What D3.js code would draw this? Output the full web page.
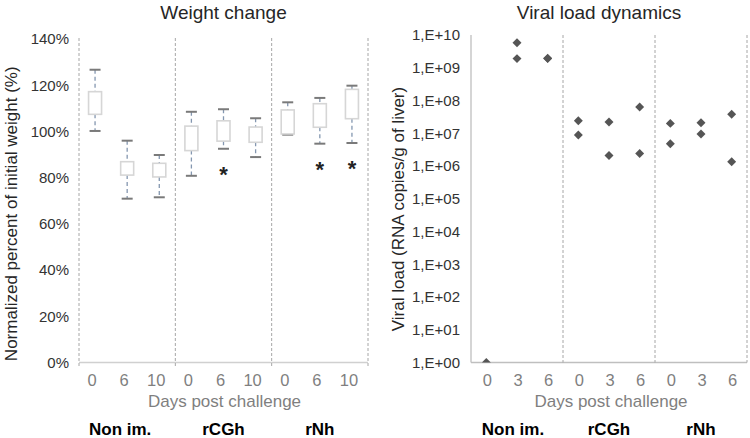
<!DOCTYPE html>
<html><head><meta charset="utf-8">
<script src="https://cdn.jsdelivr.net/npm/d3@7"></script>
<style>body{margin:0;background:#fff;} svg{display:block;font-family:"Liberation Sans",Arial,sans-serif;}</style>
</head><body><svg id="c" width="750" height="438"></svg>
<script>
// ---- data ----
const groups = ["Non im.", "rCGh", "rNh"];
const weightDays = ["0", "6", "10"];
const weightMin = [100.2, 70.9, 71.5, 80.8, 92.5, 88.9, 98.6, 94.7, 95.0];
const weightQ1  = [107.4, 81.1, 80.3, 91.7, 95.8, 95.3, 98.9, 101.8, 105.5];
const weightQ3  = [117.2, 86.9, 86.2, 102.3, 104.6, 101.9, 109.3, 112.0, 118.2];
const weightMax = [126.7, 96.0, 89.8, 108.5, 109.6, 105.7, 112.6, 114.5, 119.8];
const weightSig = ["", "", "", "", "*", "", "", "*", "*"];
const weightTicks = [0, 20, 40, 60, 80, 100, 120, 140];

const viralDays = ["0", "3", "6"];
// one entry per measured animal: [group index, day index, copies/g]
const viralGroup = [0, 0, 0, 0, 0, 1, 1, 1, 1, 1, 1, 2, 2, 2, 2, 2, 2];
const viralDay   = [0, 1, 1, 2, 2, 0, 0, 1, 1, 2, 2, 0, 0, 1, 1, 2, 2];
const viralLoad  = [1, 5.8e9, 1.9e9, 1.9e9, 1.95e9, 2.4e7, 8.9e6, 2.2e7, 2.1e6, 6.3e7, 2.4e6,
                    2.0e7, 4.8e6, 2.1e7, 9.5e6, 3.8e7, 1.35e6];
const viralTicks = [1, 1e1, 1e2, 1e3, 1e4, 1e5, 1e6, 1e7, 1e8, 1e9, 1e10];

const svg = d3.select("#c");
const gridCol = "#bfbfbf", divCol = "#a6a6a6";

function catLabels(groupsArr, daysArr) {
  const out = [];
  groupsArr.forEach((g, gi) => daysArr.forEach((d, di) => out.push(gi + "|" + di)));
  return out;
}

// ================= LEFT: Weight change =================
{
  const L = 79, R = 368, T = 39, B = 362.5;
  const cats = catLabels(groups, weightDays);
  const x = d3.scaleBand().domain(cats).range([L, R]);
  const xg = d3.scaleBand().domain(groups).range([L, R]);
  const y = d3.scaleLinear().domain([0, 140]).range([B, T]);
  const g = svg.append("g");

  g.append("text").attr("x", (L + R) / 2).attr("y", 19).attr("text-anchor", "middle")
    .attr("font-size", 19).attr("fill", "#262626").text("Weight change");

  // y axis labels
  const ya = d3.axisLeft(y).tickValues(weightTicks).tickSize(0).tickPadding(10).tickFormat(d => d + "%");
  const yg = g.append("g").attr("transform", `translate(${L},0)`).call(ya);
  yg.select(".domain").remove();
  yg.selectAll("text").attr("font-size", 15).attr("fill", "#333").attr("font-family", "Liberation Sans, Arial, sans-serif");

  // baseline
  g.append("line").attr("x1", L).attr("x2", R).attr("y1", y(0)).attr("y2", y(0))
    .attr("stroke", "#d0d0d0").attr("stroke-width", 1.5);
  // group dividers
  const divs = groups.map(d => xg(d)).concat([R]);
  g.selectAll(".div").data(divs).join("line")
    .attr("x1", d => d).attr("x2", d => d).attr("y1", T - 1).attr("y2", B + 4)
    .attr("stroke", divCol).attr("stroke-dasharray", "3,2").attr("stroke-width", 1);

  const data = cats.map((c, i) => ({c, min: weightMin[i], q1: weightQ1[i], q3: weightQ3[i], max: weightMax[i], sig: weightSig[i]}));
  const bw = 13, cw = 11;
  const cx = d => x(d.c) + x.bandwidth() / 2;
  // whiskers
  g.selectAll(".wu").data(data).join("line")
    .attr("x1", cx).attr("x2", cx).attr("y1", d => y(d.max)).attr("y2", d => y(d.q3))
    .attr("stroke", "#8497b0").attr("stroke-width", 1.3).attr("stroke-dasharray", "4,3");
  g.selectAll(".wl").data(data).join("line")
    .attr("x1", cx).attr("x2", cx).attr("y1", d => y(d.q1)).attr("y2", d => y(d.min))
    .attr("stroke", "#8497b0").attr("stroke-width", 1.3).attr("stroke-dasharray", "4,3");
  // caps
  ["max", "min"].forEach(k => {
    g.selectAll(".cap" + k).data(data).join("line")
      .attr("x1", d => cx(d) - cw / 2).attr("x2", d => cx(d) + cw / 2)
      .attr("y1", d => y(d[k])).attr("y2", d => y(d[k]))
      .attr("stroke", "#7a7a7a").attr("stroke-width", 2);
  });
  // boxes
  g.selectAll(".box").data(data).join("rect")
    .attr("x", d => cx(d) - bw / 2).attr("width", bw)
    .attr("y", d => y(d.q3)).attr("height", d => y(d.q1) - y(d.q3))
    .attr("fill", "#fff").attr("stroke", "#d6d6d6").attr("stroke-width", 1.6);
  // significance
  g.selectAll(".sig").data(data.filter(d => d.sig)).join("text")
    .attr("x", cx).attr("y", d => y(d.min) + 33).attr("text-anchor", "middle")
    .attr("font-size", 22).attr("font-weight", "bold").attr("fill", "#222").text(d => d.sig);

  // x tick labels
  g.selectAll(".xt").data(cats).join("text")
    .attr("x", d => x(d) + x.bandwidth() / 2 - 3).attr("y", 386).attr("text-anchor", "middle")
    .attr("font-size", 16.5).attr("fill", "#7f7f7f").text(d => weightDays[+d.split("|")[1]]);
  g.append("text").attr("x", (L + R) / 2 + 1).attr("y", 406.5).attr("text-anchor", "middle")
    .attr("font-size", 17).attr("fill", "#7f7f7f").text("Days post challenge");
  g.selectAll(".gl").data(groups).join("text")
    .attr("x", d => xg(d) + xg.bandwidth() / 2 - (d === "Non im." ? 7 : 0)).attr("y", 435).attr("text-anchor", "middle")
    .attr("font-size", 17).attr("font-weight", "bold").attr("fill", "#000").text(d => d);

  g.append("text").attr("transform", `translate(17,${(T + B) / 2 + 13}) rotate(-90)`)
    .attr("text-anchor", "middle").attr("font-size", 17).attr("fill", "#262626")
    .text("Normalized percent of initial weight (%)");
}

// ================= RIGHT: Viral load =================
{
  const L = 471, R = 747, T = 35, B = 362.5;
  const cats = catLabels(groups, viralDays);
  const x = d3.scaleBand().domain(cats).range([L, R]);
  const xg = d3.scaleBand().domain(groups).range([L, R]);
  const y = d3.scaleLog().domain([1, 1e10]).range([B, T]);
  const g = svg.append("g");

  g.append("text").attr("x", (L + R) / 2 - 10).attr("y", 19).attr("text-anchor", "middle")
    .attr("font-size", 19).attr("fill", "#262626").text("Viral load dynamics");

  const ya = d3.axisLeft(y).tickValues(viralTicks).tickSize(0).tickPadding(11)
    .tickFormat(d => "1,E+" + String(Math.round(Math.log10(d))).padStart(2, "0"));
  const yg = g.append("g").attr("transform", `translate(${L},0)`).call(ya);
  yg.select(".domain").remove();
  yg.selectAll("text").attr("font-size", 15).attr("fill", "#333").attr("font-family", "Liberation Sans, Arial, sans-serif");

  g.append("line").attr("x1", L).attr("x2", L).attr("y1", T).attr("y2", B)
    .attr("stroke", gridCol).attr("stroke-width", 1.3);
  g.append("line").attr("x1", L).attr("x2", R).attr("y1", B).attr("y2", B)
    .attr("stroke", gridCol).attr("stroke-width", 1.3);
  const divs = groups.slice(1).map(d => xg(d)).concat([R]);
  g.selectAll(".div").data(divs).join("line")
    .attr("x1", d => d).attr("x2", d => d).attr("y1", T).attr("y2", B)
    .attr("stroke", divCol).attr("stroke-dasharray", "3,2").attr("stroke-width", 1);

  svg.append("defs").append("clipPath").attr("id", "vclip")
    .append("rect").attr("x", L).attr("y", T - 10).attr("width", R - L).attr("height", B - T + 10);

  const pts = viralLoad.map((v, i) => ({c: viralGroup[i] + "|" + viralDay[i], v}));
  const sym = d3.symbol().type(d3.symbolSquare).size(40);
  g.append("g").attr("clip-path", "url(#vclip)").selectAll("path").data(pts).join("path")
    .attr("d", sym)
    .attr("transform", d => `translate(${x(d.c) + x.bandwidth() / 2},${y(d.v)}) rotate(45)`)
    .attr("fill", "#555");

  g.selectAll(".xt").data(cats).join("text")
    .attr("x", d => x(d) + x.bandwidth() / 2 + 1).attr("y", 386).attr("text-anchor", "middle")
    .attr("font-size", 16.5).attr("fill", "#7f7f7f").text(d => viralDays[+d.split("|")[1]]);
  g.append("text").attr("x", (L + R) / 2 + 2).attr("y", 406.5).attr("text-anchor", "middle")
    .attr("font-size", 17).attr("fill", "#7f7f7f").text("Days post challenge");
  g.selectAll(".gl").data(groups).join("text")
    .attr("x", d => xg(d) + xg.bandwidth() / 2 - (d === "Non im." ? 4 : 0)).attr("y", 435).attr("text-anchor", "middle")
    .attr("font-size", 17).attr("font-weight", "bold").attr("fill", "#000").text(d => d);

  g.append("text").attr("transform", `translate(404,209) rotate(-90)`)
    .attr("text-anchor", "middle").attr("font-size", 17).attr("fill", "#262626")
    .text("Viral load (RNA copies/g of liver)");
}
</script></body></html>
